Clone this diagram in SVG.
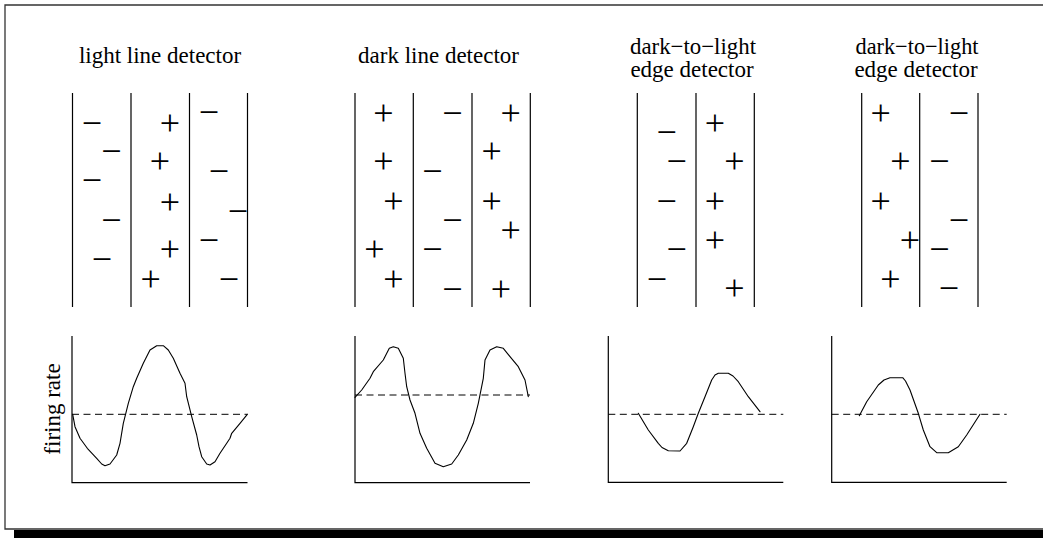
<svg xmlns="http://www.w3.org/2000/svg" width="1043" height="538" viewBox="0 0 1043 538">
<style>
.t{font-family:"Liberation Serif","Times New Roman",serif;font-size:23px;fill:#000;text-anchor:middle}
.m{font-family:"Liberation Serif","Times New Roman",serif;font-size:36px;fill:#000;text-anchor:middle}
.ln{stroke:#000;stroke-width:1.2;fill:none}
.ax{stroke:#000;stroke-width:1.2;fill:none}
.dash{stroke:#000;stroke-width:1;stroke-dasharray:7 4.5;fill:none}
.cv{stroke:#000;stroke-width:1.1;fill:none;stroke-linejoin:round;stroke-linecap:round}
</style>
<rect x="0" y="0" width="1043" height="538" fill="#fff"/>
<g id="frame">
<path d="M1043 5 H5 V529 H1043" fill="none" stroke="#333" stroke-width="1.3"/>
<rect x="14" y="530" width="1029" height="8" fill="#000"/>
</g>
<g id="ylabel">
<text class="t" transform="translate(60 409) rotate(-90)">firing rate</text>
</g>
<g id="panel-light-line">
<text class="t" x="160" y="63">light line detector</text>
<path class="ln" d="M72.5 93V307M131 93V307M189.5 93V307M247.5 93V307"/>
<g transform="translate(0 2.5)">
<text class="m" x="92" y="132.3">−</text>
<text class="m" x="170" y="132.3">+</text>
<text class="m" x="209" y="121.7">−</text>
<text class="m" x="111.5" y="160.7">−</text>
<text class="m" x="160" y="170">+</text>
<text class="m" x="92" y="189.7">−</text>
<text class="m" x="219" y="180.7">−</text>
<text class="m" x="170" y="211.7">+</text>
<text class="m" x="111.5" y="229">−</text>
<text class="m" x="238" y="220">−</text>
<text class="m" x="170" y="258.3">+</text>
<text class="m" x="209" y="249">−</text>
<text class="m" x="102" y="268">−</text>
<text class="m" x="150.7" y="288.3">+</text>
<text class="m" x="229" y="288.3">−</text>
</g>
<path class="ax" d="M72 336V482.7H247.5"/>
<path class="dash" d="M72 414.3H247.5"/>
<polyline class="cv" points="72.7,414.3 75,426.7 80,438.3 87.3,448.3 96.7,458.3 101.7,464 105,465.7 110,464 116.7,455 120,443.3 123.3,423.3 128.3,403.3 133.3,386.7 136.7,378.3 143.3,363.3 150,350 156.7,345.7 163.3,345.7 168.3,350 173.3,358.3 180,373.3 185,383.3 186.7,396.7 191.7,416.7 196.7,435 199,446.7 201.7,456.7 206.7,464 210,465 215,461.7 220,453.3 226.7,443.3 230,438.3 231.7,433.3 240,423.3 247.3,414.3"/>
</g>
<g id="panel-dark-line">
<text class="t" x="438.5" y="63">dark line detector</text>
<path class="ln" d="M355 93V307M413.3 93V307M472 93V307M530.3 93V307"/>
<g transform="translate(0 2.5)">
<text class="m" x="383.3" y="122.3">+</text>
<text class="m" x="452.5" y="122.3">−</text>
<text class="m" x="510.7" y="122.3">+</text>
<text class="m" x="491.7" y="160.7">+</text>
<text class="m" x="383.3" y="170.7">+</text>
<text class="m" x="432.5" y="180.7">−</text>
<text class="m" x="393.3" y="210.7">+</text>
<text class="m" x="491.7" y="210.7">+</text>
<text class="m" x="452.5" y="229">−</text>
<text class="m" x="510.7" y="239.7">+</text>
<text class="m" x="374.3" y="258.3">+</text>
<text class="m" x="432.5" y="258.3">−</text>
<text class="m" x="393.3" y="288.3">+</text>
<text class="m" x="452.5" y="298">−</text>
<text class="m" x="501" y="298">+</text>
</g>
<path class="ax" d="M355 336V482.7H530"/>
<path class="dash" d="M355 395H530"/>
<polyline class="cv" points="355,397.3 361.7,390 370,378.3 373.3,371.7 383.3,360 389.3,348.3 393.3,346.7 398.3,348.3 403.3,358.3 405,373.3 406.7,386.7 410,400 415,413.3 420,433.3 426.7,448.3 435,463.3 443.3,466.7 451.7,464 458.3,455 466.7,440 473.3,423.3 478.3,403.3 483.3,378.3 485,360 490,350 496.7,346.7 503.3,348.3 510,356.7 518.3,366.7 525,380 528.3,396.7"/>
</g>
<g id="panel-edge-1">
<text class="t" x="693" y="54" textLength="126" lengthAdjust="spacingAndGlyphs">dark−to−light</text>
<text class="t" x="692" y="77">edge detector</text>
<path class="ln" d="M637.3 93V307M696 93V307M754.3 93V307"/>
<g transform="translate(0 2.5)">
<text class="m" x="666.7" y="141.7">−</text>
<text class="m" x="715" y="132.3">+</text>
<text class="m" x="676.7" y="170.7">−</text>
<text class="m" x="734.3" y="170.7">+</text>
<text class="m" x="666.7" y="210">−</text>
<text class="m" x="715" y="210">+</text>
<text class="m" x="676.7" y="258.3">−</text>
<text class="m" x="715" y="249">+</text>
<text class="m" x="657" y="288.3">−</text>
<text class="m" x="734.3" y="297.3">+</text>
</g>
<path class="ax" d="M608.3 336V482.3H783.3"/>
<path class="dash" d="M608.3 414.3H783.3"/>
<polyline class="cv" points="638.3,413.3 648.3,430 658.3,443.3 662,447.5 668.3,450.7 680,451 686.7,443.3 693.3,426.7 698.3,413.3 705,396.7 711.7,380 715,375 718.3,373.3 728.3,373.3 733,376 738.3,381.7 748.3,396.7 760,411.7"/>
</g>
<g id="panel-edge-2">
<text class="t" x="917" y="54" textLength="123" lengthAdjust="spacingAndGlyphs">dark−to−light</text>
<text class="t" x="916" y="77">edge detector</text>
<path class="ln" d="M861.7 93V307M919.7 93V307M978 93V307"/>
<g transform="translate(0 2.5)">
<text class="m" x="880.7" y="122.3">+</text>
<text class="m" x="959" y="122.3">−</text>
<text class="m" x="900.3" y="170.7">+</text>
<text class="m" x="939.5" y="170.7">−</text>
<text class="m" x="880.7" y="210">+</text>
<text class="m" x="959" y="229">−</text>
<text class="m" x="910" y="249">+</text>
<text class="m" x="939.5" y="258.3">−</text>
<text class="m" x="890.3" y="288.3">+</text>
<text class="m" x="949" y="297.3">−</text>
</g>
<path class="ax" d="M831.7 336V482.3H1006.7"/>
<path class="dash" d="M831.7 414.3H1006.7"/>
<polyline class="cv" points="859.3,415.7 866.7,401.7 878.3,385 884,380 890,377.7 902.7,377.7 905.5,381 910,390 918.3,413.3 923.3,430 930,446.7 936.7,452.7 948.3,452.7 958.3,446.7 966.7,435 980,414.3"/>
</g>
</svg>
